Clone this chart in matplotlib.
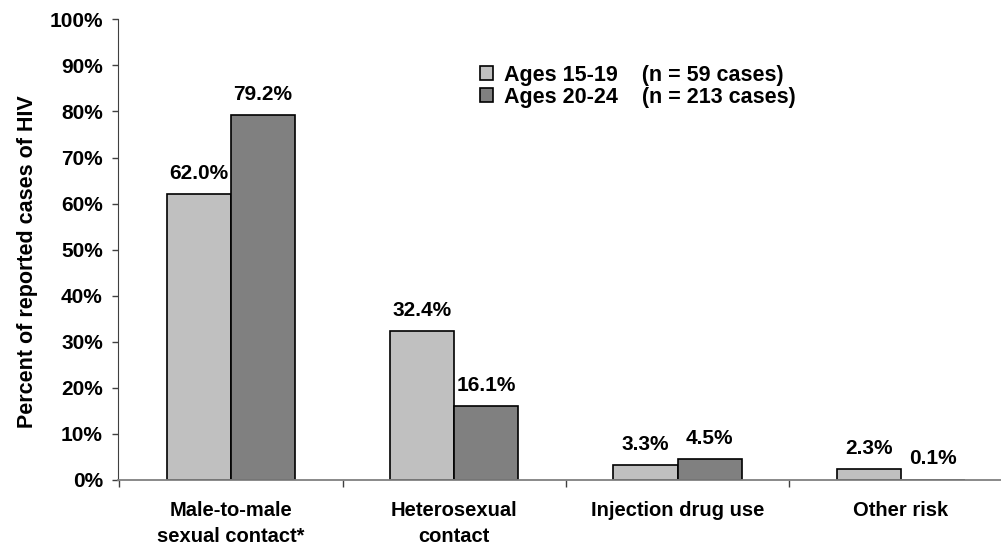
import numpy as np
import matplotlib.pyplot as plt
from matplotlib.ticker import MultipleLocator, FuncFormatter

plt.rcParams['font.family'] = ['Liberation Sans', 'DejaVu Sans']
plt.rcParams['font.weight'] = 'bold'

categorias = ["Male-to-male\nsexual contact*", "Heterosexual\ncontact",
              "Injection drug use", "Other risk"]
edades_15_19 = [62.0, 32.4, 3.3, 2.3]
edades_20_24 = [79.2, 16.1, 4.5, 0.1]
etiquetas = ["Ages 15-19    (n = 59 cases)", "Ages 20-24    (n = 213 cases)"]

fig = plt.figure(figsize=(10.01, 5.5), dpi=100)
ax = fig.add_axes([0.118, 0.1273, 0.882, 0.8376])

x = np.arange(len(categorias))
ancho = 0.287
b1 = ax.bar(x - ancho/2, edades_15_19, ancho, color="#C0C0C0", edgecolor="black",
            linewidth=1.2, label=etiquetas[0])
b2 = ax.bar(x + ancho/2, edades_20_24, ancho, color="#808080", edgecolor="black",
            linewidth=1.2, label=etiquetas[1])

for barras in (b1, b2):
    for b in barras:
        h = b.get_height()
        ax.annotate(f"{h:.1f}%", (b.get_x() + b.get_width()/2, h),
                    xytext=(0, 8), textcoords="offset points",
                    ha="center", va="bottom", fontsize=15, fontweight="bold")

ax.set_xlim(-0.505, 3.448)
ax.set_ylim(0, 100)
ax.yaxis.set_major_locator(MultipleLocator(10))
ax.yaxis.set_major_formatter(FuncFormatter(lambda v, p: f"{v:.0f}%"))
ax.tick_params(axis="y", direction="out", length=4, width=1, pad=7, labelsize=15,
               color="#404040")

ax.set_xticks(x)
ax.set_xticklabels(categorias, fontsize=14.5, linespacing=1.5)
ax.tick_params(axis="x", which="major", length=0, pad=15)
ax.set_xticks(np.arange(-0.5, 3.5, 1), minor=True)
ax.tick_params(axis="x", which="minor", direction="out", length=5, width=1, color="#404040")

for s in ["top", "right"]:
    ax.spines[s].set_visible(False)
ax.spines["left"].set_color("#404040")
ax.spines["bottom"].set_color("#808080")
ax.spines["bottom"].set_linewidth(1.3)

fig.text(0.027, 0.525, "Percent of reported cases of HIV", rotation=90,
         ha="center", va="center", fontsize=15.5, fontweight="bold")

ax.legend(loc="upper left", bbox_to_anchor=(0.469, 0.902), bbox_transform=fig.transFigure,
          frameon=False, fontsize=15.5, handlelength=0.6, handleheight=0.6,
          handletextpad=0.5, labelspacing=0.05, borderpad=0)

fig.savefig("out.png", dpi=100)
